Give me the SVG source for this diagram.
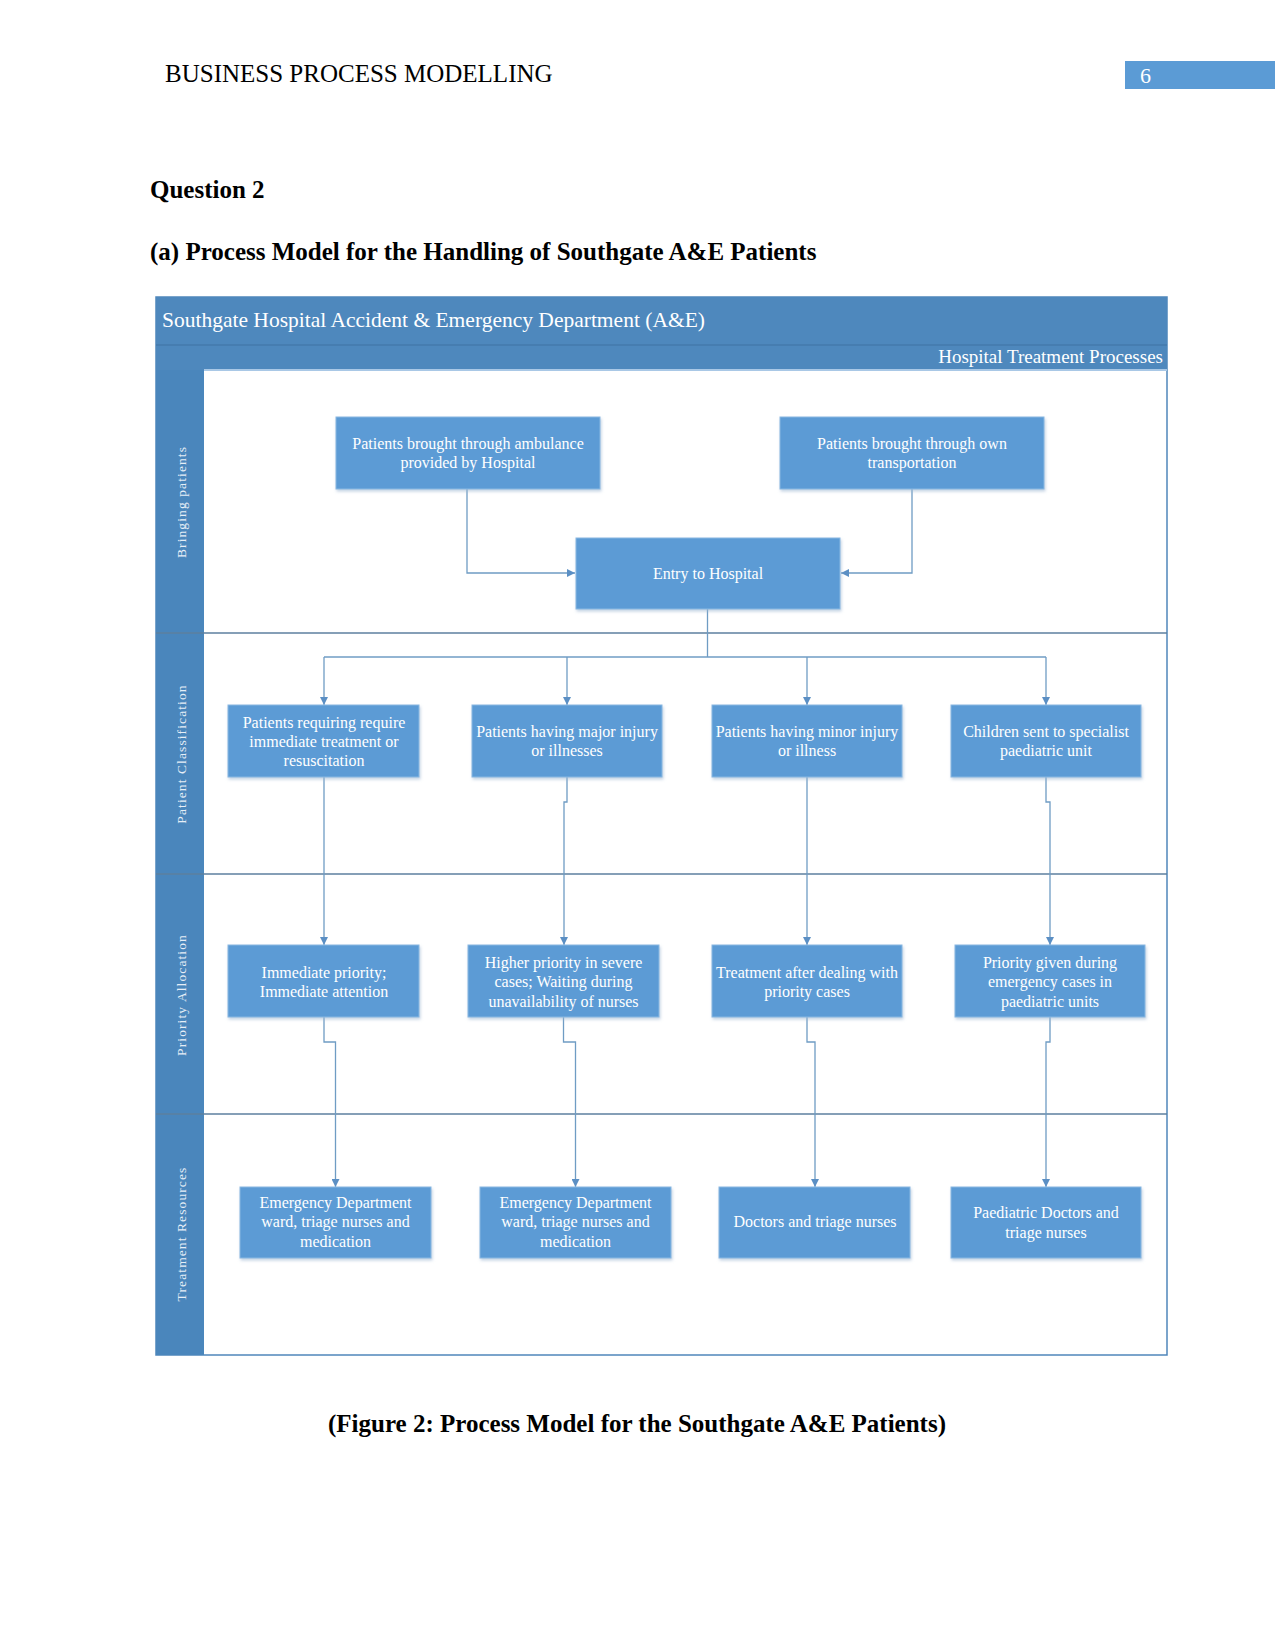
<svg xmlns="http://www.w3.org/2000/svg" width="1275" height="1651" viewBox="0 0 1275 1651">
<defs>
<marker id="arr" viewBox="0 0 10 10" refX="10" refY="5" markerWidth="8" markerHeight="8" markerUnits="userSpaceOnUse" orient="auto">
<path d="M0,0 L10,5 L0,10 z" fill="#5b8fc4"/>
</marker>
<filter id="sh" x="-5%" y="-5%" width="115%" height="125%">
<feDropShadow dx="1" dy="2" stdDeviation="1.5" flood-color="#9bb6d0" flood-opacity="0.6"/>
</filter>
</defs>
<style>
.doc{font-family:"Liberation Serif","Times New Roman",serif;fill:#000}
.b{font-weight:bold;font-size:25px}
.node rect{fill:#5b9bd5;stroke:#8ab8e2;stroke-width:1;filter:url(#sh)}
.node text{font-family:"Liberation Serif","Times New Roman",serif;font-size:16px;fill:#fff;text-anchor:middle;dominant-baseline:central}
.lane{font-family:"Liberation Serif","Times New Roman",serif;font-size:13.5px;fill:#e6eef7;text-anchor:middle;dominant-baseline:central;letter-spacing:1.1px}
.conn path{fill:none;stroke:#6f9cc4;stroke-width:1.3}
.conn .a{marker-end:url(#arr)}
.div{stroke:#5d7f9f;stroke-width:1.5}
</style>
<rect width="1275" height="1651" fill="#fff"/>
<!-- page header -->
<text class="doc" x="165" y="82" font-size="25">BUSINESS PROCESS MODELLING</text>
<rect x="1125" y="61" width="150" height="28" fill="#5b9bd5"/>
<text x="1140" y="83" font-family="Liberation Serif, serif" font-size="22" fill="#fff">6</text>
<text class="doc b" x="150" y="198">Question 2</text>
<text class="doc b" x="150" y="260">(a) Process Model for the Handling of Southgate A&amp;E Patients</text>

<!-- pool -->
<g id="pool">
<rect x="156" y="297" width="1011" height="1058" fill="#fff" stroke="#4f86bb" stroke-width="1.5"/>
<rect x="156" y="297" width="1011" height="48" fill="#4e88bd"/>
<rect x="156" y="345" width="1011" height="25" fill="#4e88bd"/>
<line x1="156" y1="345" x2="1167" y2="345" stroke="#3f73a3" stroke-width="1"/>
<rect x="156" y="370" width="48" height="985" fill="#4a86bc"/>
<line x1="204" y1="370" x2="1167" y2="370" stroke="#a9c8e6" stroke-width="2"/>
<text x="162" y="320" font-family="Liberation Serif, serif" font-size="21.5" fill="#fff" dominant-baseline="central">Southgate Hospital Accident &amp; Emergency Department (A&amp;E)</text>
<text x="1163" y="356" font-family="Liberation Serif, serif" font-size="19" fill="#fff" text-anchor="end" dominant-baseline="central">Hospital Treatment Processes</text>
<line class="div" x1="156" y1="633" x2="1167" y2="633"/>
<line class="div" x1="156" y1="874" x2="1167" y2="874"/>
<line class="div" x1="156" y1="1114" x2="1167" y2="1114"/>
<text class="lane" transform="translate(181,502) rotate(-90)">Bringing patients</text>
<text class="lane" transform="translate(181,754) rotate(-90)">Patient Classification</text>
<text class="lane" transform="translate(181,995) rotate(-90)">Priority Allocation</text>
<text class="lane" transform="translate(181,1234) rotate(-90)">Treatment Resources</text>
</g>

<!-- connectors -->
<g id="connectors" class="conn">
<path class="a" d="M467,489 V573 H575"/>
<path class="a" d="M912,489 V573 H841"/>
<path d="M707.5,609 V657"/>
<path d="M324,657 H1046"/>
<path class="a" d="M324,657 V705"/>
<path class="a" d="M567,657 V705"/>
<path class="a" d="M807,657 V705"/>
<path class="a" d="M1046,657 V705"/>
<path class="a" d="M324,777 V945"/>
<path class="a" d="M567,777 V802 H564 V945"/>
<path class="a" d="M807,777 V945"/>
<path class="a" d="M1046,777 V802 H1050 V945"/>
<path class="a" d="M324,1017 V1042 H335.5 V1187"/>
<path class="a" d="M563.5,1017 V1042 H575.5 V1187"/>
<path class="a" d="M807,1017 V1042 H815 V1187"/>
<path class="a" d="M1050,1017 V1042 H1046 V1187"/>
</g>

<!-- nodes -->
<g id="n-ambulance" class="node"><rect x="336" y="417" width="264" height="72"/>
<text x="468" y="443">Patients brought through ambulance</text><text x="468" y="462">provided by Hospital</text></g>
<g id="n-own" class="node"><rect x="780" y="417" width="264" height="72"/>
<text x="912" y="443">Patients brought through own</text><text x="912" y="462">transportation</text></g>
<g id="n-entry" class="node"><rect x="576" y="538" width="264" height="71"/>
<text x="708" y="573">Entry to Hospital</text></g>

<g id="n-c1" class="node"><rect x="228" y="705" width="191" height="72"/>
<text x="324" y="722">Patients requiring require</text><text x="324" y="741">immediate treatment or</text><text x="324" y="760">resuscitation</text></g>
<g id="n-c2" class="node"><rect x="472" y="705" width="190" height="72"/>
<text x="567" y="731">Patients having major injury</text><text x="567" y="750">or illnesses</text></g>
<g id="n-c3" class="node"><rect x="712" y="705" width="190" height="72"/>
<text x="807" y="731">Patients having minor injury</text><text x="807" y="750">or illness</text></g>
<g id="n-c4" class="node"><rect x="951" y="705" width="190" height="72"/>
<text x="1046" y="731">Children sent to specialist</text><text x="1046" y="750">paediatric unit</text></g>

<g id="n-p1" class="node"><rect x="228" y="945" width="191" height="72"/>
<text x="324" y="972">Immediate priority;</text><text x="324" y="991">Immediate attention</text></g>
<g id="n-p2" class="node"><rect x="468" y="945" width="191" height="72"/>
<text x="563.5" y="962">Higher priority in severe</text><text x="563.5" y="981">cases; Waiting during</text><text x="563.5" y="1001">unavailability of nurses</text></g>
<g id="n-p3" class="node"><rect x="712" y="945" width="190" height="72"/>
<text x="807" y="972">Treatment after dealing with</text><text x="807" y="991">priority cases</text></g>
<g id="n-p4" class="node"><rect x="955" y="945" width="190" height="72"/>
<text x="1050" y="962">Priority given during</text><text x="1050" y="981">emergency cases in</text><text x="1050" y="1001">paediatric units</text></g>

<g id="n-t1" class="node"><rect x="240" y="1187" width="191" height="71"/>
<text x="335.5" y="1202">Emergency Department</text><text x="335.5" y="1221">ward, triage nurses and</text><text x="335.5" y="1241">medication</text></g>
<g id="n-t2" class="node"><rect x="480" y="1187" width="191" height="71"/>
<text x="575.5" y="1202">Emergency Department</text><text x="575.5" y="1221">ward, triage nurses and</text><text x="575.5" y="1241">medication</text></g>
<g id="n-t3" class="node"><rect x="719" y="1187" width="191" height="71"/>
<text x="815" y="1221">Doctors and triage nurses</text></g>
<g id="n-t4" class="node"><rect x="951" y="1187" width="190" height="71"/>
<text x="1046" y="1212">Paediatric Doctors and</text><text x="1046" y="1232">triage nurses</text></g>

<text class="doc b" x="637" y="1432" text-anchor="middle">(Figure 2: Process Model for the Southgate A&amp;E Patients)</text>
</svg>
